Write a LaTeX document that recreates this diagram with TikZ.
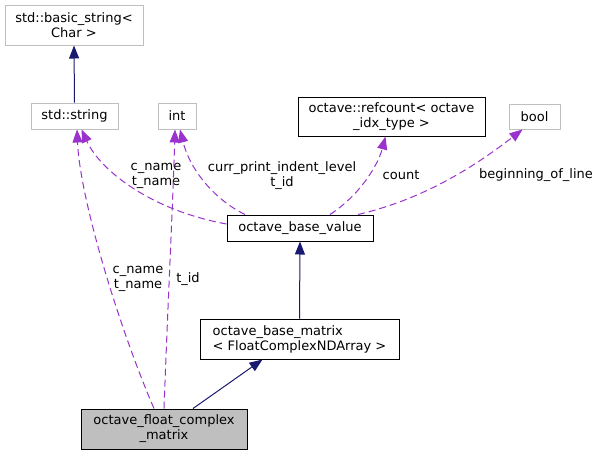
\documentclass[tikz,border=0pt]{standalone}
\usepackage{fontspec}
\setmainfont{DejaVu Sans}
\usetikzlibrary{arrows.meta,calc}
\definecolor{edgeblue}{HTML}{191970}
\definecolor{edgepurple}{HTML}{9A32CD}
\definecolor{extgrey}{HTML}{BFBFBF}
\begin{document}
\begin{tikzpicture}[x=1pt,y=-1pt]
    \tikzset{cls/.style=   {draw=black,
                            rectangle,
                            line width=1pt,
                            inner sep=0pt,
                            align=center,
                            font=\fontsize{13}{15}\selectfont},
             ext/.style=   {cls,
                            draw=extgrey},
             self/.style=  {cls,
                            fill=extgrey},
             lbl/.style=   {align=center,
                            inner sep=0pt,
                            font=\fontsize{13}{15}\selectfont},
             inherit/.style= {draw=edgeblue,
                            line width=1pt,
                            -{Triangle[length=13pt,width=10pt]}},
             member/.style= {draw=edgepurple,
                            line width=1pt,
                            dash pattern=on 7pt off 4pt,
                            -{Triangle[length=13pt,width=10pt]}},
            }
    \useasboundingbox (0,0) rectangle (600,456);
    \path
    (74,25)      node[ext,minimum width=138pt,minimum height=40pt](bstr) {std::basic\_string<\\Char >}
    (74.5,116)   node[ext,minimum width=87pt,minimum height=26pt](str) {std::string}
    (177,116)    node[ext,minimum width=38pt,minimum height=26pt](int) {int}
    (391.5,116.5) node[cls,minimum width=187pt,minimum height=39pt](rc) {octave::refcount< octave\\\_idx\_type >}
    (534.5,116.5) node[ext,minimum width=51pt,minimum height=25pt](bool) {bool}
    (300,228)    node[cls,minimum width=146pt,minimum height=26pt](obv) {octave\_base\_value}
    (299.5,339)  node[cls,minimum width=199pt,minimum height=40pt,align=left](obm) {octave\_base\_matrix\\< FloatComplexNDArray >}
    (164,429)    node[self,minimum width=166pt,minimum height=40pt](ofcm) {octave\_float\_complex\\\_matrix}
    ;
    % edge labels
    \path
    (156,176)    node[lbl](lstr) {c\_name\\t\_name}
    (282,176)    node[lbl](lint) {curr\_print\_indent\_level\\t\_id}
    (401,175)    node[lbl](lrc) {count}
    (536,175)    node[lbl](lbool) {beginning\_of\_line}
    (138,279)    node[lbl](lstr2) {c\_name\\t\_name}
    (188,279)    node[lbl](lint2) {t\_id}
    ;
    \draw[inherit] (str.north) -- (bstr.south);
    \draw[inherit] (obm.north) -- (obv.south);
    \draw[inherit] ($(ofcm.north)+(29,0)$) -- ($(obm.south)+(-37,0)$);
    \draw[member]  ($(ofcm.north)+(-10,0)$) .. controls (120,330) and (80,200) .. ($(str.south)+(2.5,0)$);
    \draw[member]  ($(obv.west)+(0,-4)$) .. controls (150,210) and (100,170) .. ($(str.south)+(7,0)$);
    \draw[member]  (ofcm.north) .. controls (168,300) and (173,200) .. ($(int.south)+(-2,0)$);
    \draw[member]  ($(obv.north)+(-55,0)$) .. controls (215,200) and (190,170) .. ($(int.south)+(3,0)$);
    \draw[member]  ($(obv.north)+(30,0)$) .. controls (360,195) and (378,165) .. ($(rc.south)+(-6,0)$);
    \draw[member]  ($(obv.north)+(58,0)$) .. controls (420,200) and (470,170) .. ($(bool.south)+(-12,0)$);
\end{tikzpicture}
\end{document}
